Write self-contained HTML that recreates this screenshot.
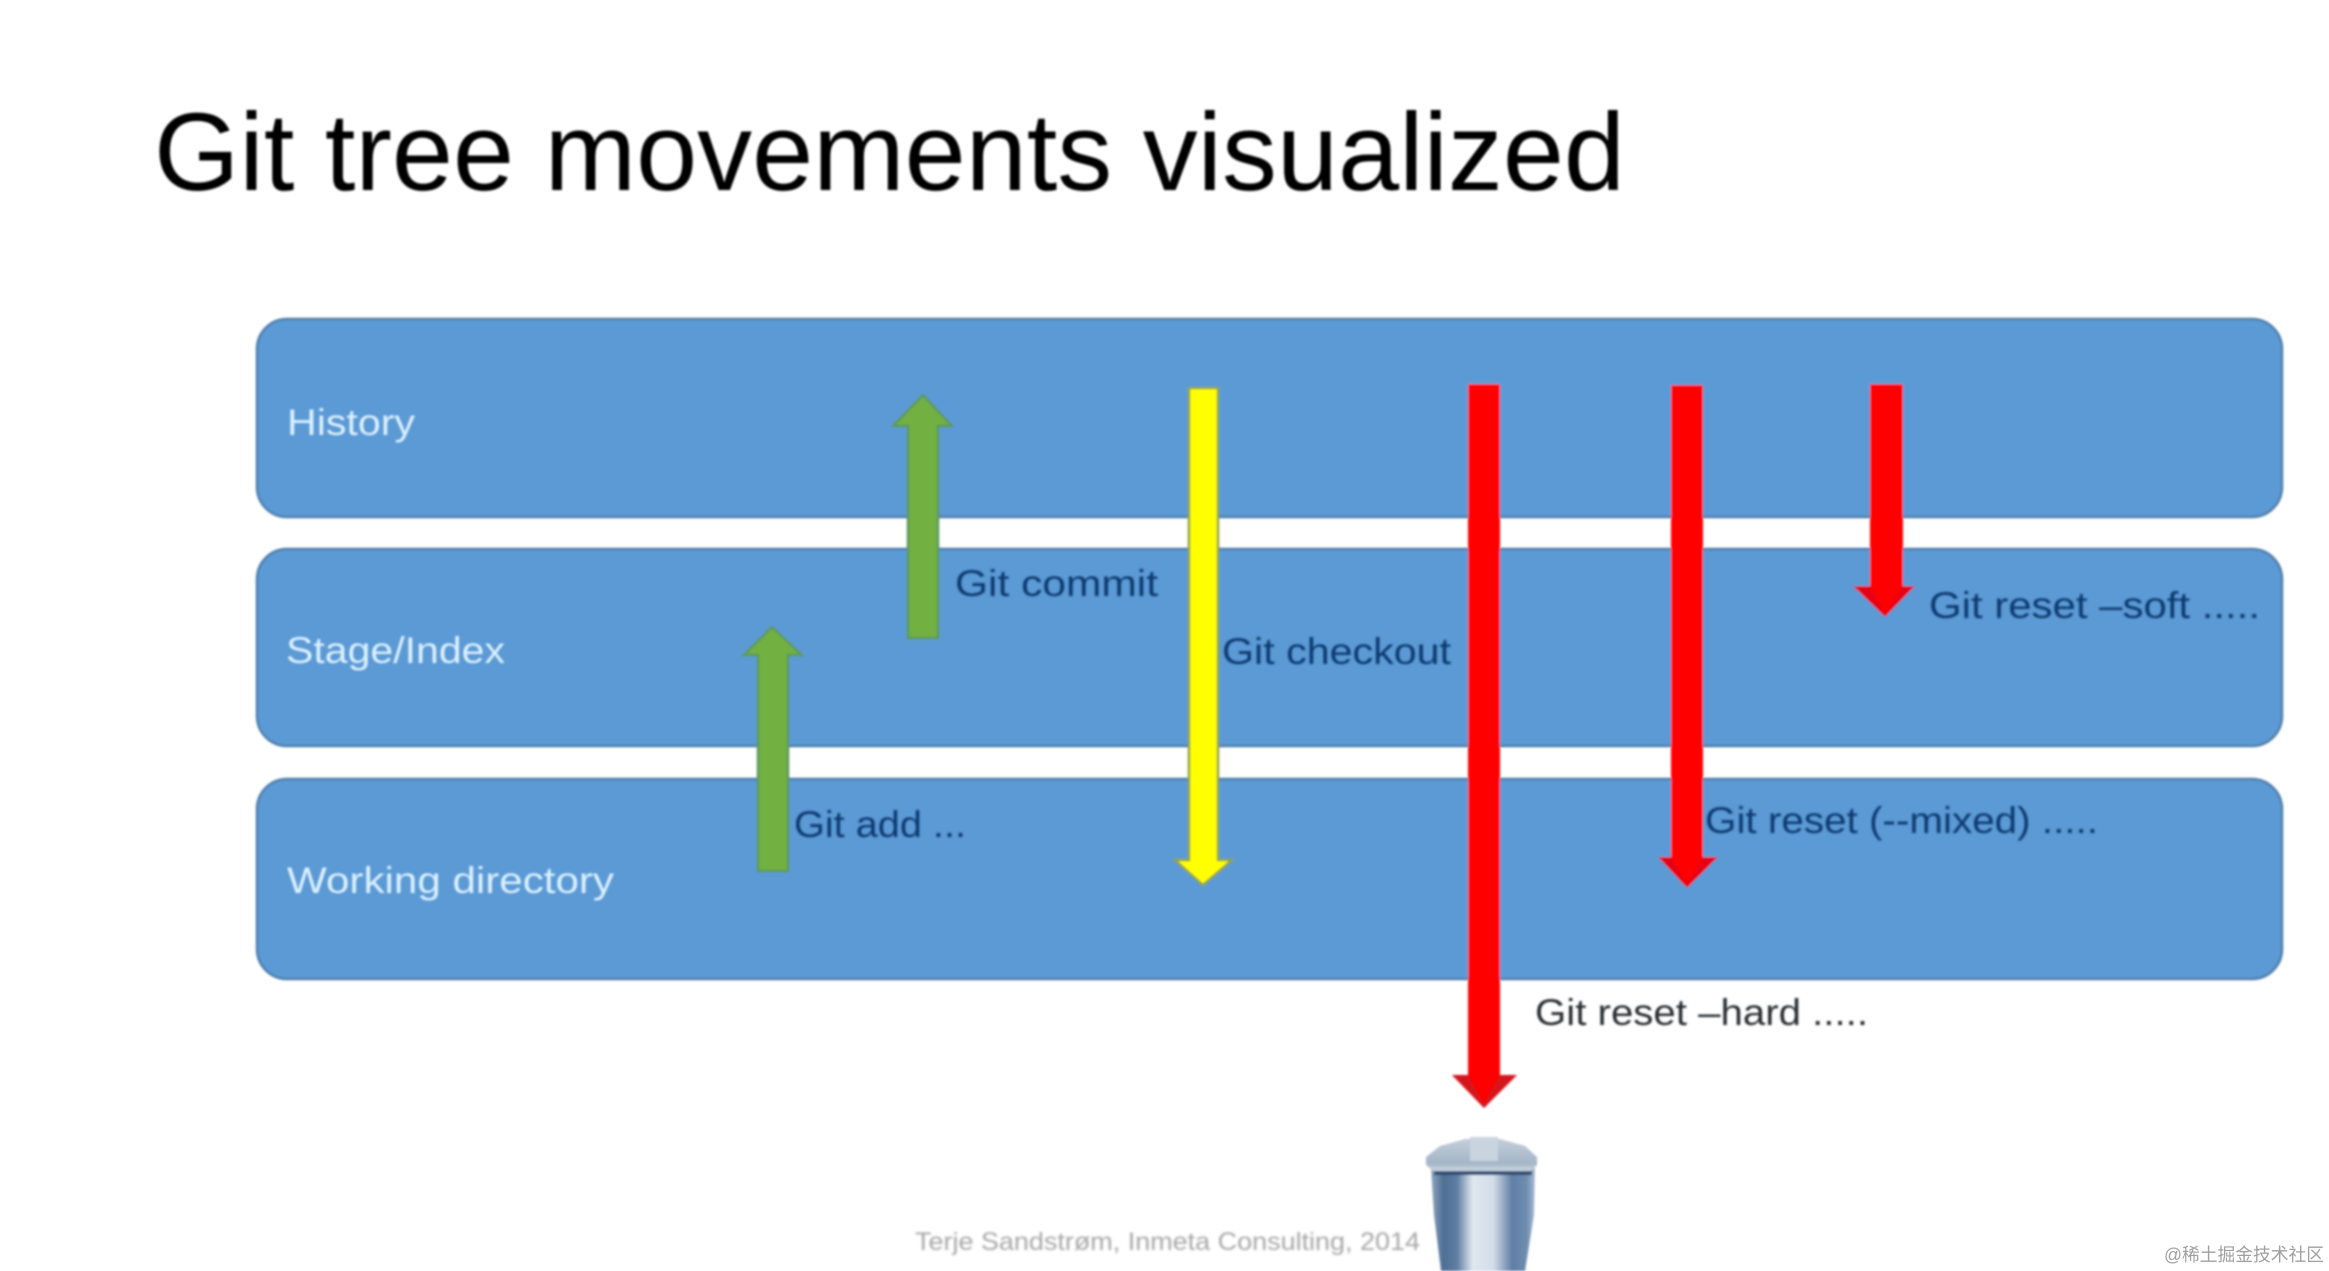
<!DOCTYPE html>
<html lang="en">
<head>
<meta charset="utf-8">
<title>Git tree movements visualized</title>
<style>
html,body{margin:0;padding:0;background:#fff;width:2329px;height:1271px;overflow:hidden}
svg{display:block;position:absolute;left:0;top:0}
text{font-family:"Liberation Sans",sans-serif}
.lb{font-size:37px;fill:#dcf1ff}
.gt{font-size:37px;fill:#0c3a70}
</style>
</head>
<body>
<svg xmlns="http://www.w3.org/2000/svg" width="2329" height="1271" viewBox="0 0 2329 1271">
<defs>
<filter id="b" x="-5%" y="-5%" width="110%" height="110%"><feGaussianBlur stdDeviation="1"/></filter>
<filter id="t" x="-5%" y="-20%" width="110%" height="140%"><feGaussianBlur stdDeviation="1"/></filter>
<filter id="f" x="-5%" y="-30%" width="110%" height="160%"><feGaussianBlur stdDeviation="1.3"/></filter>
<linearGradient id="can" x1="0" x2="1" y1="0" y2="0">
<stop offset="0" stop-color="#8fa6c0"/><stop offset="0.12" stop-color="#4f6f94"/><stop offset="0.25" stop-color="#5e7ea3"/><stop offset="0.4" stop-color="#dfe7ef"/><stop offset="0.6" stop-color="#d3dde9"/><stop offset="0.78" stop-color="#5f7fa5"/><stop offset="0.92" stop-color="#6f8db0"/><stop offset="1" stop-color="#a9bcd2"/>
</linearGradient>
<linearGradient id="lid" x1="0" x2="0" y1="0" y2="1">
<stop offset="0" stop-color="#c3ced9"/><stop offset="0.7" stop-color="#a4b5c7"/><stop offset="1" stop-color="#dbe5ef"/>
</linearGradient>
</defs>
<g filter="url(#b)">
<rect x="257" y="319" width="2025" height="198" rx="30" fill="#5b9ad5" stroke="#4f7fac" stroke-width="2.5"/>
<rect x="257" y="549" width="2025" height="197" rx="30" fill="#5b9ad5" stroke="#4f7fac" stroke-width="2.5"/>
<rect x="257" y="779" width="2025" height="200" rx="30" fill="#5b9ad5" stroke="#4f7fac" stroke-width="2.5"/>

<polygon points="923,395 952,426 938,426 938,638 908,638 908,426 893,426" fill="#72b043" stroke="#5c9a5c" stroke-width="2.5"/>
<polygon points="772,627 802,655 788,655 788,871 758,871 758,655 744,655" fill="#72b043" stroke="#5c9a5c" stroke-width="2.5"/>
<polygon points="1189,388 1218,388 1218,860 1232,860 1203,885 1175,860 1189,860" fill="#ffff00" stroke="#8fa33f" stroke-width="2.5"/>
<polygon points="1468,384 1500,384 1500,1075 1517,1075 1484,1108 1452,1075 1468,1075" fill="#ff0000"/>
<polygon points="1671,385 1703,385 1703,857 1718,857 1687,888 1658,857 1671,857" fill="#ff0000"/>
<polygon points="1870,384 1903,384 1903,586 1915,586 1885,617 1853,586 1870,586" fill="#ff0000"/>
<polygon points="1452,1075 1468,1075 1484,1104 1500,1075 1517,1075 1484,1108" fill="#b02030" opacity=".55"/>
<polygon points="1658,857 1671,857 1687,885 1703,857 1718,857 1687,888" fill="#c01030" opacity=".4"/>
<polygon points="1853,586 1870,586 1885,614 1903,586 1915,586 1885,617" fill="#c01030" opacity=".4"/>

<polygon points="1431,1168 1535,1168 1534,1215 1525,1271 1441,1271 1434,1215" fill="url(#can)"/>
<polygon points="1426,1157 1440,1146 1465,1139 1500,1139 1525,1146 1537,1157 1537,1165 1528,1174 1437,1174 1426,1165" fill="url(#lid)"/>
<rect x="1470" y="1137" width="28" height="24" fill="#c9d4df"/>
<rect x="1434" y="1171" width="98" height="4" fill="#2d4c70"/>
</g>

<g filter="url(#t)">
<text x="154" y="190" font-size="110" fill="#000" textLength="1471" lengthAdjust="spacingAndGlyphs">Git tree movements visualized</text>
<text class="lb" x="287" y="435" textLength="128" lengthAdjust="spacingAndGlyphs">History</text>
<text class="lb" x="286" y="663" textLength="219" lengthAdjust="spacingAndGlyphs">Stage/Index</text>
<text class="lb" x="287" y="893" textLength="327" lengthAdjust="spacingAndGlyphs">Working directory</text>
<text class="gt" x="955" y="596" textLength="203" lengthAdjust="spacingAndGlyphs">Git commit</text>
<text class="gt" x="794" y="837" textLength="172" lengthAdjust="spacingAndGlyphs">Git add ...</text>
<text class="gt" x="1222" y="664" textLength="229" lengthAdjust="spacingAndGlyphs">Git checkout</text>
<text class="gt" x="1929" y="618" textLength="331" lengthAdjust="spacingAndGlyphs">Git reset –soft .....</text>
<text class="gt" x="1705" y="833" textLength="393" lengthAdjust="spacingAndGlyphs">Git reset (--mixed) .....</text>
<text class="gt" x="1535" y="1025" textLength="333" lengthAdjust="spacingAndGlyphs" style="fill:#2a2f33">Git reset –hard .....</text>
</g>
<text x="915" y="1250" font-size="25" fill="#a6a6a6" textLength="505" lengthAdjust="spacingAndGlyphs" filter="url(#f)">Terje Sandstrøm, Inmeta Consulting, 2014</text>
<text x="2164" y="1261" font-size="18" fill="#a0a0a0" textLength="160" lengthAdjust="spacingAndGlyphs" style="font-family:'Liberation Sans','Noto Sans CJK SC',sans-serif">@稀土掘金技术社区</text>
</svg>
</body>
</html>
